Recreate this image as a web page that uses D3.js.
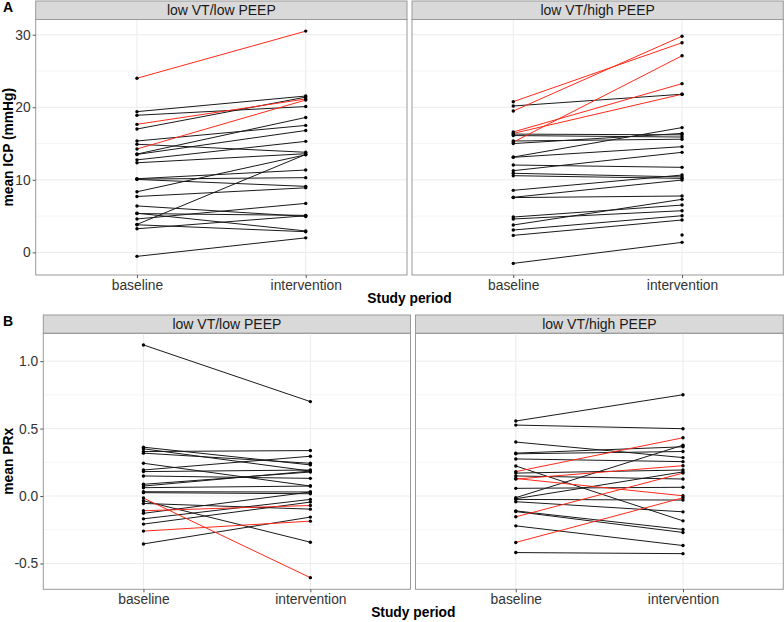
<!DOCTYPE html>
<html><head><meta charset="utf-8">
<script src="https://cdn.jsdelivr.net/npm/d3@7"></script>
<style>body{margin:0;background:#fff} svg{display:block} text{font-family:"Liberation Sans",Arial,sans-serif}</style>
</head><body><svg id="c" width="784" height="622"></svg>
<script>
const periods = ["baseline", "intervention"];
const facets = ["low VT/low PEEP", "low VT/high PEEP"];

// Panel A: mean ICP (mmHg)
const icpLowBase = [24.0, 19.4, 18.9, 17.65, 17.0, 15.35, 14.9, 14.25, 13.55, 13.5, 12.75, 12.35, 10.15, 10.1, 10.05, 8.35, 7.7, 6.4, 5.4, 5.35, 4.6, 3.85, 3.8, 3.25, -0.55];
const icpLowInt  = [30.5, 21.55, 20.1, 21.15, 21.4, 17.5, 13.8, 21.0, 18.6, 16.8, 15.3, 13.6, 11.35, 10.3, 9.1, 13.45, 8.9, 4.95, 2.95, 5.1, 6.75, 13.5, 2.85, 5.05, 2.0];
const icpLowFlag = [1, 0, 0, 1, 0, 0, 0, 1, 0, 0, 0, 0, 0, 0, 0, 0, 0, 0, 0, 0, 0, 0, 0, 0, 0];

const icpHighBase = [20.77, 19.48, 20.18, 16.6, 16.4, 15.2, 16.3, 16.1, 15.35, 15.0, 13.14, 13.1, 12.04, 11.26, 10.9, 10.57, 8.55, 7.59, 7.55, 4.87, 4.6, 3.77, 3.08, 2.34, -1.52, null];
const icpHighInt  = [28.9, 29.8, 21.8, 23.26, 21.8, 27.1, 16.2, 15.9, 15.6, 16.4, 17.2, 14.57, 11.72, 13.79, 10.4, 10.2, 10.66, 9.97, 7.77, 6.52, 5.74, 7.31, 5.05, 4.46, 1.38, 2.39];
const icpHighFlag = [1, 1, 0, 1, 1, 1, 0, 0, 0, 0, 0, 0, 0, 0, 0, 0, 0, 0, 0, 0, 0, 0, 0, 0, 0, 0];
const icpTicks = [0, 10, 20, 30];

// Panel B: mean PRx
const prxLowBase = [1.12, 0.362, 0.35, 0.33, 0.318, 0.243, 0.193, 0.181, 0.149, 0.087, 0.074, 0.062, 0.032, 0.025, -0.015, -0.035, -0.055, -0.109, -0.128, -0.169, -0.208, -0.26, -0.355];
const prxLowInt  = [0.70, 0.231, 0.185, 0.337, 0.243, 0.074, 0.295, 0.193, 0.131, 0.178, 0.185, 0.074, 0.03, 0.017, -0.605, -0.342, -0.097, -0.07, 0.03, -0.025, -0.045, -0.186, -0.156];
const prxLowFlag = [0, 0, 0, 0, 0, 0, 0, 0, 0, 0, 0, 0, 0, 0, 1, 0, 0, 1, 0, 0, 0, 1, 0];

const prxHighBase = [0.556, 0.526, 0.40, 0.318, 0.313, 0.275, 0.223, 0.181, 0.17, 0.149, 0.126, 0.13, 0.057, -0.012, -0.02, -0.025, -0.042, -0.11, -0.115, -0.154, -0.221, -0.344, -0.419];
const prxHighInt  = [0.751, 0.499, 0.285, 0.365, 0.33, 0.255, -0.184, 0.432, 0.193, 0.126, 0.225, 0.002, 0.065, 0.377, 0.179, -0.03, -0.117, -0.248, -0.27, 0.17, -0.367, -0.013, -0.427];
const prxHighFlag = [0, 0, 0, 0, 0, 0, 0, 1, 0, 0, 1, 1, 0, 0, 0, 0, 0, 0, 0, 1, 0, 1, 0];
const prxTicks = [-0.5, 0.0, 0.5, 1.0];

const svg = d3.select("#c");
svg.append("rect").attr("width", 784).attr("height", 622).attr("fill", "#fff");

function pairs(b, i, f) {
  return b.map((v, k) => ({b: v, i: i[k], red: f[k] === 1}));
}

function drawRow(cfg) {
  const all = cfg.data.flatMap(d => d.flatMap(p => [p.b, p.i])).filter(v => v != null);
  const ext = d3.extent(all);
  const pad = (ext[1] - ext[0]) * 0.05;
  const y = d3.scaleLinear().domain([ext[0] - pad, ext[1] + pad]).range([cfg.bottom, cfg.top]);
  const minor = [];
  for (let k = 0; k < cfg.ticks.length - 1; k++) minor.push((cfg.ticks[k] + cfg.ticks[k + 1]) / 2);

  cfg.panels.forEach((px, fi) => {
    const x = d3.scalePoint().domain(periods).range(px).padding(0.6);
    const g = svg.append("g");
    // strip
    g.append("rect").attr("x", px[0]).attr("y", cfg.stripTop).attr("width", px[1] - px[0])
      .attr("height", cfg.top - cfg.stripTop).attr("fill", "#d9d9d9").attr("stroke", "#9a9a9a").attr("stroke-width", 1);
    g.append("text").attr("x", (px[0] + px[1]) / 2).attr("y", cfg.stripTop + (cfg.top - cfg.stripTop) / 2 + 5)
      .attr("text-anchor", "middle").attr("font-size", 14).attr("fill", "#1a1a1a").text(facets[fi]);
    // grid
    g.selectAll(".mn").data(minor).enter().append("line")
      .attr("x1", px[0]).attr("x2", px[1]).attr("y1", d => y(d)).attr("y2", d => y(d))
      .attr("stroke", "#f3f3f3").attr("stroke-width", 0.8);
    g.selectAll(".mj").data(cfg.ticks).enter().append("line")
      .attr("x1", px[0]).attr("x2", px[1]).attr("y1", d => y(d)).attr("y2", d => y(d))
      .attr("stroke", "#ebebeb").attr("stroke-width", 1);
    g.selectAll(".vx").data(periods).enter().append("line")
      .attr("x1", d => x(d)).attr("x2", d => x(d)).attr("y1", cfg.top).attr("y2", cfg.bottom)
      .attr("stroke", "#ebebeb").attr("stroke-width", 1);
    // lines
    const dat = cfg.data[fi];
    const lineData = dat.filter(d => d.b != null && d.i != null);
    g.selectAll(".seg").data(lineData.filter(d => !d.red).concat(lineData.filter(d => d.red))).enter().append("line")
      .attr("x1", x("baseline")).attr("x2", x("intervention"))
      .attr("y1", d => y(d.b)).attr("y2", d => y(d.i))
      .attr("stroke", d => d.red ? "#ff2a1a" : "#1a1a1a").attr("stroke-width", 1);
    const pts = [];
    dat.forEach(d => {
      if (d.b != null) pts.push({p: "baseline", v: d.b});
      if (d.i != null) pts.push({p: "intervention", v: d.i});
    });
    g.selectAll(".pt").data(pts).enter().append("circle")
      .attr("cx", d => x(d.p)).attr("cy", d => y(d.v)).attr("r", 1.7).attr("fill", "#000");
    // border
    g.append("rect").attr("x", px[0]).attr("y", cfg.top).attr("width", px[1] - px[0])
      .attr("height", cfg.bottom - cfg.top).attr("fill", "none").attr("stroke", "#9a9a9a").attr("stroke-width", 1);
    // x axis
    const xa = g.append("g").attr("transform", `translate(0,${cfg.bottom})`)
      .call(d3.axisBottom(x).tickSize(3).tickPadding(2));
    xa.select(".domain").remove();
    xa.selectAll("line").attr("stroke", "#555");
    xa.selectAll("text").attr("font-size", 13.8).attr("fill", "#333").attr("font-family", "Liberation Sans, Arial, sans-serif");
  });
  // y axis
  const ya = svg.append("g").attr("transform", `translate(${cfg.panels[0][0]},0)`)
    .call(d3.axisLeft(y).tickValues(cfg.ticks).tickFormat(cfg.fmt).tickSize(3).tickPadding(2));
  ya.select(".domain").remove();
  ya.selectAll("line").attr("stroke", "#555");
  ya.selectAll("text").attr("font-size", 13.8).attr("fill", "#333").attr("font-family", "Liberation Sans, Arial, sans-serif");
  // titles
  const cx = (cfg.panels[0][0] + cfg.panels[1][1]) / 2;
  svg.append("text").attr("x", cx).attr("y", cfg.bottom + 28).attr("text-anchor", "middle")
    .attr("font-size", 13.8).attr("font-weight", "bold").text("Study period");
  svg.append("text").attr("transform", `translate(13,${(cfg.top + cfg.bottom) / 2}) rotate(-90)`)
    .attr("text-anchor", "middle").attr("font-size", 13.8).attr("font-weight", "bold").text(cfg.ytitle);
  svg.append("text").attr("x", 3).attr("y", cfg.stripTop + 11).attr("font-size", 14).attr("font-weight", "bold").text(cfg.tag);
}

drawRow({
  tag: "A", ytitle: "mean ICP (mmHg)", stripTop: 1, top: 19.5, bottom: 275,
  panels: [[35.7, 407], [412, 783.3]], ticks: icpTicks, fmt: d3.format("d"),
  data: [pairs(icpLowBase, icpLowInt, icpLowFlag), pairs(icpHighBase, icpHighInt, icpHighFlag)]
});
drawRow({
  tag: "B", ytitle: "mean PRx", stripTop: 315, top: 333.3, bottom: 589.3,
  panels: [[43.3, 410.5], [415.5, 783.3]], ticks: prxTicks, fmt: d => d3.format(".1f")(d).replace("\u2212", "-"),
  data: [pairs(prxLowBase, prxLowInt, prxLowFlag), pairs(prxHighBase, prxHighInt, prxHighFlag)]
});
</script></body></html>
